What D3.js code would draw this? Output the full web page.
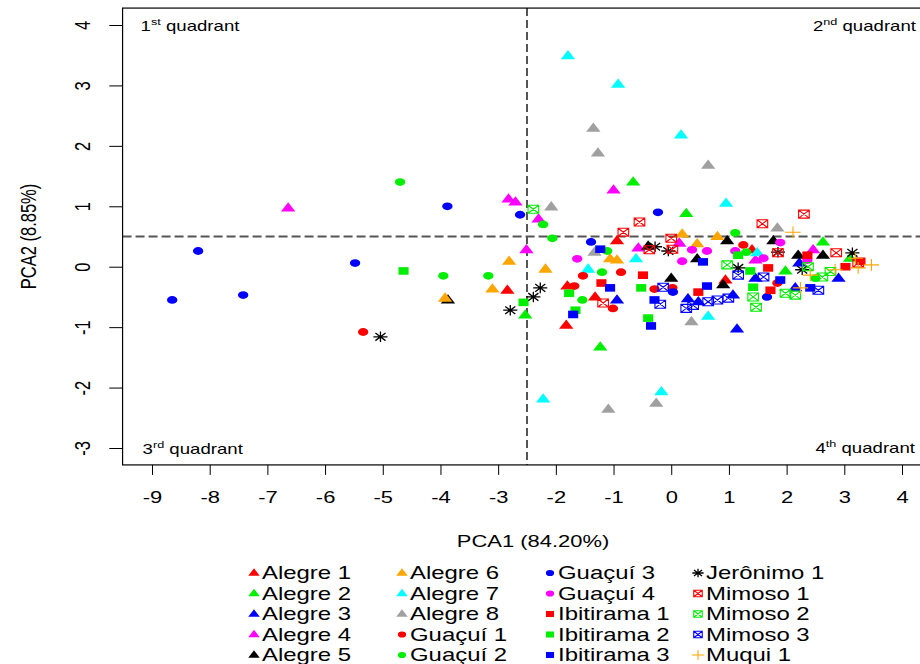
<!DOCTYPE html>
<html>
<head>
<meta charset="utf-8">
<script src="https://cdn.jsdelivr.net/npm/d3@7/dist/d3.min.js"></script>
<style>
  body { margin: 0; background: #fff; }
  svg { display: block; font-family: "Liberation Sans", Arial, sans-serif; }
</style>
</head>
<body>
<svg id="chart" width="920" height="664"></svg>
<script>
'use strict';

// axis text and ticks
var xLabel = 'PCA1 (84.20%)';
var yLabel = 'PCA2 (8.85%)';
var xTicks = [-9, -8, -7, -6, -5, -4, -3, -2, -1, 0, 1, 2, 3, 4];
var yTicks = [-3, -2, -1, 0, 1, 2, 3, 4];
var cutX = -2.5, cutY = 0.5;

var names = ['Alegre 1', 'Alegre 2', 'Alegre 3', 'Alegre 4', 'Alegre 5',
             'Alegre 6', 'Alegre 7', 'Alegre 8', 'Guaçuí 1', 'Guaçuí 2',
             'Guaçuí 3', 'Guaçuí 4', 'Ibitirama 1', 'Ibitirama 2', 'Ibitirama 3',
             'Jerônimo 1', 'Mimoso 1', 'Mimoso 2', 'Mimoso 3', 'Muqui 1'];

// PCA1, PCA2 scores
var alegre1 = [[-2.84, -0.39], [-0.94, 0.43], [-1.80, -0.32], [-1.32, -0.50], [-1.82, -0.97],
               [1.40, 0.28], [0.94, -0.22]];
var alegre2 = [[-2.53, -0.80], [0.26, 0.88], [-0.66, 1.40], [-1.23, -1.33], [2.63, 0.41],
               [3.10, 0.14], [1.98, -0.07]];
var alegre3 = [[-0.94, -0.55], [0.29, -0.53], [0.47, -0.58], [1.14, -1.03], [1.07, -0.47],
               [1.46, -0.19], [2.22, 0.06], [2.15, -0.35], [2.90, -0.19]];
var alegre4 = [[-6.64, 0.97], [-2.82, 1.12], [-2.70, 1.07], [-2.30, 0.79], [-2.51, 0.28],
               [-1.00, 1.27], [-0.57, 0.31], [0.14, 0.39], [1.46, 0.11], [2.46, 0.28]];
var alegre5 = [[-3.87, -0.55], [-0.40, 0.34], [0.00, -0.19], [0.45, 0.13], [0.97, 0.43],
               [1.77, 0.43], [2.20, 0.19], [2.63, 0.19], [0.90, -0.30]];
var alegre6 = [[-3.92, -0.52], [-3.10, -0.37], [-2.81, 0.09], [-2.18, -0.04], [-1.06, 0.13],
               [-0.94, 0.11], [0.19, 0.54], [0.45, 0.38], [0.80, 0.50]];
var alegre7 = [[-1.79, 3.49], [-0.92, 3.02], [0.17, 2.18], [0.95, 1.05], [-2.22, -2.19],
               [-0.17, -2.07], [0.64, -0.82], [-0.61, 0.13], [-1.44, -0.04], [1.49, 0.23]];
var alegre8 = [[-1.35, 2.29], [-1.27, 1.88], [0.64, 1.68], [-2.08, 0.99], [-1.33, 0.24],
               [0.35, -0.91], [-1.09, -2.36], [-0.26, -2.26], [1.84, 0.64]];
var guacui1 = [[-5.34, -1.08], [-0.87, -0.09], [-1.53, -0.15], [-1.68, -0.32], [-0.29, -0.37],
               [0.02, -0.35], [-1.01, -0.69], [1.25, 0.36], [1.84, -0.27]];
var guacui2 = [[-4.70, 1.40], [-3.95, -0.15], [-3.17, -0.15], [-2.22, 0.70], [-2.06, 0.47],
               [-1.11, 0.26], [-1.20, -0.09], [-1.54, -0.55], [1.11, 0.56], [1.30, 0.24],
               [2.50, -0.19]];
var guacui3 = [[-8.65, -0.55], [-8.20, 0.26], [-7.42, -0.47], [-5.48, 0.06], [-3.88, 1.00],
               [-2.62, 0.86], [-0.23, 0.90], [-1.39, 0.41], [0.03, -0.42], [1.66, -0.50]];
var guacui4 = [[-1.63, 0.13], [0.36, 0.28], [0.62, 0.26], [0.19, 0.09], [1.11, 0.26],
               [1.89, 0.40], [1.60, 0.14], [2.36, 0.11]];
var ibitirama1 = [[-0.49, -0.14], [-1.21, -0.27], [0.47, -0.42], [2.36, 0.19], [3.28, 0.09],
                  [3.02, 0.00], [1.68, -0.02], [1.72, -0.39]];
var ibitirama2 = [[-4.64, -0.07], [-2.56, -0.59], [-1.77, -0.44], [-1.66, -0.72], [-0.52, -0.35],
                  [-0.40, -0.85], [1.16, 0.19], [1.37, -0.07], [1.42, -0.34]];
var ibitirama3 = [[-1.23, 0.29], [0.55, 0.08], [-1.06, -0.35], [0.62, -0.32], [-0.29, -0.55],
                  [-1.70, -0.79], [-0.35, -0.98], [1.89, -0.22], [2.41, -0.35]];
var jeronimo1 = [[-5.04, -1.16], [-2.79, -0.72], [-2.39, -0.50], [-2.27, -0.35], [-0.28, 0.33],
                 [-0.05, 0.26], [1.16, -0.02], [1.85, 0.24], [2.27, -0.05], [3.14, 0.23]];
var mimoso1 = [[-0.55, 0.74], [-0.83, 0.57], [0.00, 0.47], [-0.38, 0.28], [0.02, 0.29],
               [-1.18, -0.60], [1.58, 0.71], [2.30, 0.87], [1.85, 0.23], [2.86, 0.23],
               [3.24, 0.06]];
var mimoso2 = [[-2.39, 0.95], [0.97, 0.03], [2.37, 0.00], [2.62, -0.17], [2.76, -0.08],
               [1.98, -0.44], [2.15, -0.47], [1.42, -0.50], [1.47, -0.67]];
var mimoso3 = [[-0.14, -0.34], [-0.19, -0.62], [0.26, -0.69], [0.38, -0.64], [0.64, -0.58],
               [0.80, -0.55], [0.99, -0.52], [1.16, -0.14], [1.60, -0.17], [2.55, -0.39]];
var muqui1 = [[2.11, 0.57], [3.19, 0.14], [3.47, 0.03], [3.24, -0.02], [2.41, -0.14],
              [2.84, -0.05], [2.24, -0.35]];

var series = [alegre1, alegre2, alegre3, alegre4, alegre5, alegre6, alegre7, alegre8,
              guacui1, guacui2, guacui3, guacui4, ibitirama1, ibitirama2, ibitirama3,
              jeronimo1, mimoso1, mimoso2, mimoso3, muqui1];

var colors = ['#ff0000', '#00ee00', '#0000ff', '#ff00ff', '#000000', '#ffa500', '#00ffff', '#a0a0a0',
              '#ff0000', '#00ee00', '#0000ff', '#ff00ff', '#ff0000', '#00ee00', '#0000ff',
              '#000000', '#ff0000', '#00ee00', '#0000ff', '#ffa500'];
var shapes = ['tri', 'tri', 'tri', 'tri', 'tri', 'tri', 'tri', 'tri',
              'dot', 'dot', 'dot', 'dot', 'sq', 'sq', 'sq',
              'star', 'boxx', 'boxx', 'boxx', 'plus'];

// the original figure is stretched sideways, so text and marks are too
var SX = 1.33;

var paths = {
  tri: 'M0,-5.8L5.4,3.5L-5.4,3.5Z',
  dot: 'M-3.9,0a3.9,3.9 0 1,0 7.8,0a3.9,3.9 0 1,0 -7.8,0Z',
  sq: 'M-3.8,-3.8h7.6v7.6h-7.6Z',
  boxx: 'M-4,-4h8v8h-8ZM-4,-4L4,4M4,-4L-4,4',
  star: 'M-5.3,0H5.3M0,-5.3V5.3M-3.8,-3.8L3.8,3.8M3.8,-3.8L-3.8,3.8',
  plus: 'M-5.8,0H5.8M0,-5.8V5.8'
};
var lineShapes = { boxx: true, star: true, plus: true };

var svg = d3.select('#chart');

var x = d3.scaleLinear().domain([-9, 4]).range([152, 902]);
var y = d3.scaleLinear().domain([-3, 4]).range([448, 25]);
var xlim = [-9.51, 4.4], ylim = [-3.28, 4.28];

var plotL = x(xlim[0]), plotR = x(xlim[1]), plotT = y(ylim[1]), plotB = y(ylim[0]);

function stretch(px, py, extra) {
  return 'translate(' + px + ',' + py + ') scale(' + SX + ',1)' + (extra || '');
}

function styleMark(sel, i) {
  var s = shapes[i], c = colors[i];
  sel.attr('d', paths[s])
    .attr('fill', lineShapes[s] ? 'none' : c)
    .attr('stroke', lineShapes[s] ? c : 'none')
    .attr('stroke-width', s === 'star' ? 1.3 : 1.1)
    .attr('vector-effect', 'non-scaling-stroke');
}

// reference lines
svg.append('line')
  .attr('x1', x(cutX)).attr('x2', x(cutX))
  .attr('y1', plotT).attr('y2', plotB)
  .attr('stroke', '#555').attr('stroke-width', 2).attr('stroke-dasharray', '8,4');
svg.append('line')
  .attr('x1', plotL).attr('x2', plotR)
  .attr('y1', y(cutY)).attr('y2', y(cutY))
  .attr('stroke', '#555').attr('stroke-width', 2).attr('stroke-dasharray', '9,4');

// points
series.forEach(function(pts, i) {
  svg.append('g').selectAll('path')
    .data(pts)
    .enter().append('path')
    .attr('transform', function(d) { return stretch(x(d[0]), y(d[1])); })
    .call(styleMark, i);
});

// frame
svg.append('rect')
  .attr('x', plotL).attr('y', plotT)
  .attr('width', plotR - plotL).attr('height', plotB - plotT)
  .attr('fill', 'none').attr('stroke', '#000').attr('stroke-width', 1.2);

// axes
var gx = svg.append('g')
  .attr('transform', 'translate(0,' + plotB + ')')
  .call(d3.axisBottom(x).tickValues(xTicks).tickSize(10).tickSizeOuter(0)
    .tickFormat(function(d) { return String(d); }));
gx.select('.domain').remove();
gx.selectAll('line').attr('stroke', '#000');
gx.selectAll('text')
  .attr('y', 0).attr('dy', 0)
  .attr('fill', '#000')
  .attr('font-size', 16.5)
  .attr('font-family', '"Liberation Sans", Arial, sans-serif')
  .attr('transform', 'translate(0,38) scale(' + SX + ',1)');

var gy = svg.append('g')
  .attr('transform', 'translate(' + plotL + ',0)')
  .call(d3.axisLeft(y).tickValues(yTicks).tickSize(13.3).tickSizeOuter(0)
    .tickFormat(function(d) { return String(d); }));
gy.select('.domain').remove();
gy.selectAll('line').attr('stroke', '#000');
gy.selectAll('text')
  .attr('x', 0).attr('dy', '0.35em')
  .attr('text-anchor', 'middle')
  .attr('fill', '#000')
  .attr('font-size', 16.5)
  .attr('font-family', '"Liberation Sans", Arial, sans-serif')
  .attr('transform', 'translate(-40,0) scale(' + SX + ',1) rotate(-90)');

svg.append('text')
  .attr('transform', stretch(533, 547))
  .attr('text-anchor', 'middle')
  .attr('font-size', 16.5)
  .text(xLabel);

svg.append('text')
  .attr('transform', stretch(28, (plotT + plotB) / 2, ' rotate(-90)'))
  .attr('text-anchor', 'middle')
  .attr('dy', '0.35em')
  .attr('font-size', 16.5)
  .text(yLabel);

// quadrant captions
var quads = [
  { n: '1', sup: 'st', px: plotL + 18, py: plotT + 23, anchor: 'start' },
  { n: '2', sup: 'nd', px: 916, py: plotT + 23, anchor: 'end' },
  { n: '3', sup: 'rd', px: plotL + 20, py: plotB - 11, anchor: 'start' },
  { n: '4', sup: 'th', px: 915, py: plotB - 12, anchor: 'end' }
];
quads.forEach(function(q) {
  var t = svg.append('text')
    .attr('transform', stretch(q.px, q.py))
    .attr('text-anchor', q.anchor)
    .attr('font-size', 14);
  t.append('tspan').text(q.n);
  t.append('tspan').attr('font-size', 9.5).attr('dy', -6).text(q.sup);
  t.append('tspan').attr('dy', 6).text(' quadrant');
});

// legend, 4 columns of 5
var legend = svg.append('g');
names.forEach(function(name, i) {
  var col = Math.floor(i / 5), row = i % 5;
  var lx = 254 + col * 148, ly = 573 + row * 20.5;
  legend.append('path')
    .attr('transform', stretch(lx, ly, ' scale(0.8)'))
    .call(styleMark, i);
  legend.append('text')
    .attr('transform', stretch(lx + 8, ly))
    .attr('dy', '0.35em')
    .attr('font-size', 18)
    .text(name);
});
</script>
</body>
</html>
